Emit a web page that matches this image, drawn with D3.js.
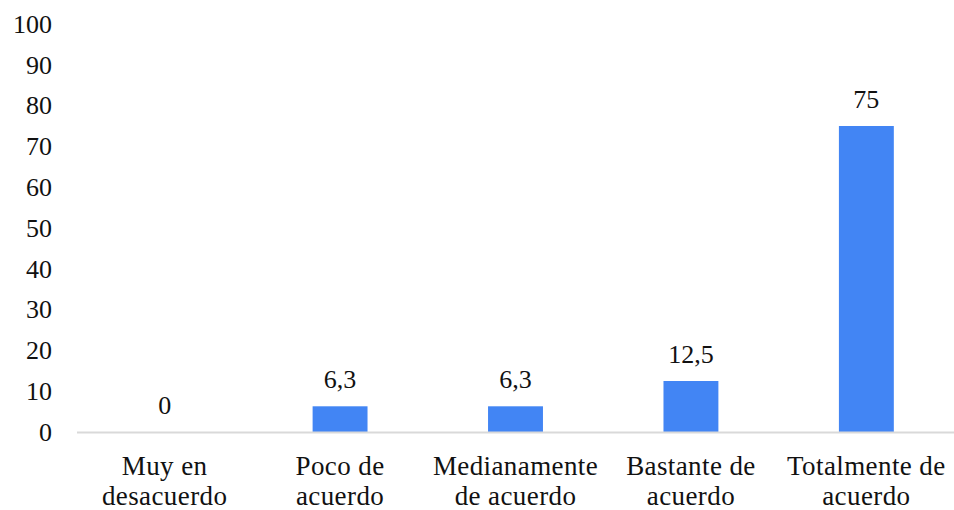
<!DOCTYPE html>
<html>
<head>
<meta charset="utf-8">
<script src="https://cdn.jsdelivr.net/npm/d3@7"></script>
<style>
  html, body { margin: 0; padding: 0; background: #ffffff; }
</style>
</head>
<body>
<svg id="chart" width="954" height="510"></svg>
<script>
// Level of agreement (%)
const categories = [
  ["Muy en", "desacuerdo"],
  ["Poco de", "acuerdo"],
  ["Medianamente", "de acuerdo"],
  ["Bastante de", "acuerdo"],
  ["Totalmente de", "acuerdo"]
];
const values = [0, 6.3, 6.3, 12.5, 75];
const valueLabels = ["0", "6,3", "6,3", "12,5", "75"];
const yTicks = [0, 10, 20, 30, 40, 50, 60, 70, 80, 90, 100];

const FONT = "'Liberation Serif', 'Times New Roman', serif";
const FS = 26;

const svg = d3.select("#chart");
const W = 954;
const left = 77;

const x = d3.scaleBand()
  .domain(d3.range(values.length))
  .range([left, W])
  .paddingInner(0.687)
  .paddingOuter(0.343);

const y = d3.scaleLinear()
  .domain([0, 100])
  .range([432, 24]);

// Y axis labels only (no line, no ticks)
const yAxis = svg.append("g")
  .attr("transform", `translate(${left},0)`)
  .call(d3.axisLeft(y).tickValues(yTicks).tickSize(0).tickPadding(25).tickFormat(d3.format("d")));
yAxis.attr("font-family", FONT).attr("font-size", FS);
yAxis.select(".domain").remove();
yAxis.selectAll("text").attr("fill", "#111");

// Bars
svg.append("g")
  .selectAll("rect")
  .data(values)
  .join("rect")
  .attr("x", (d, i) => x(i))
  .attr("width", x.bandwidth())
  .attr("y", d => y(d))
  .attr("height", d => y(0) - y(d))
  .attr("fill", "#4285f4");

// Baseline
svg.append("line")
  .attr("x1", x.range()[0])
  .attr("x2", x.range()[1])
  .attr("y1", y(0) + 0.5)
  .attr("y2", y(0) + 0.5)
  .attr("stroke", "#d9d9d9")
  .attr("stroke-width", 2);

// Value labels
svg.append("g")
  .attr("font-family", FONT)
  .attr("font-size", FS)
  .selectAll("text")
  .data(values)
  .join("text")
  .attr("x", (d, i) => x(i) + x.bandwidth() / 2)
  .attr("y", d => y(d) - 18)
  .attr("text-anchor", "middle")
  .attr("fill", "#111")
  .text((d, i) => valueLabels[i]);

// Category labels (two lines each)
const cat = svg.append("g")
  .attr("font-family", FONT)
  .attr("font-size", 27)
  .attr("letter-spacing", 0.4)
  .selectAll("text")
  .data(categories)
  .join("text")
  .attr("text-anchor", "middle")
  .attr("fill", "#111")
  .attr("x", (d, i) => x(i) + x.bandwidth() / 2)
  .attr("y", 475);
cat.selectAll("tspan")
  .data(d => d)
  .join("tspan")
  .attr("x", function () { return d3.select(this.parentNode).attr("x"); })
  .attr("dy", (d, j) => j === 0 ? 0 : 30)
  .text(d => d);
</script>
</body>
</html>
